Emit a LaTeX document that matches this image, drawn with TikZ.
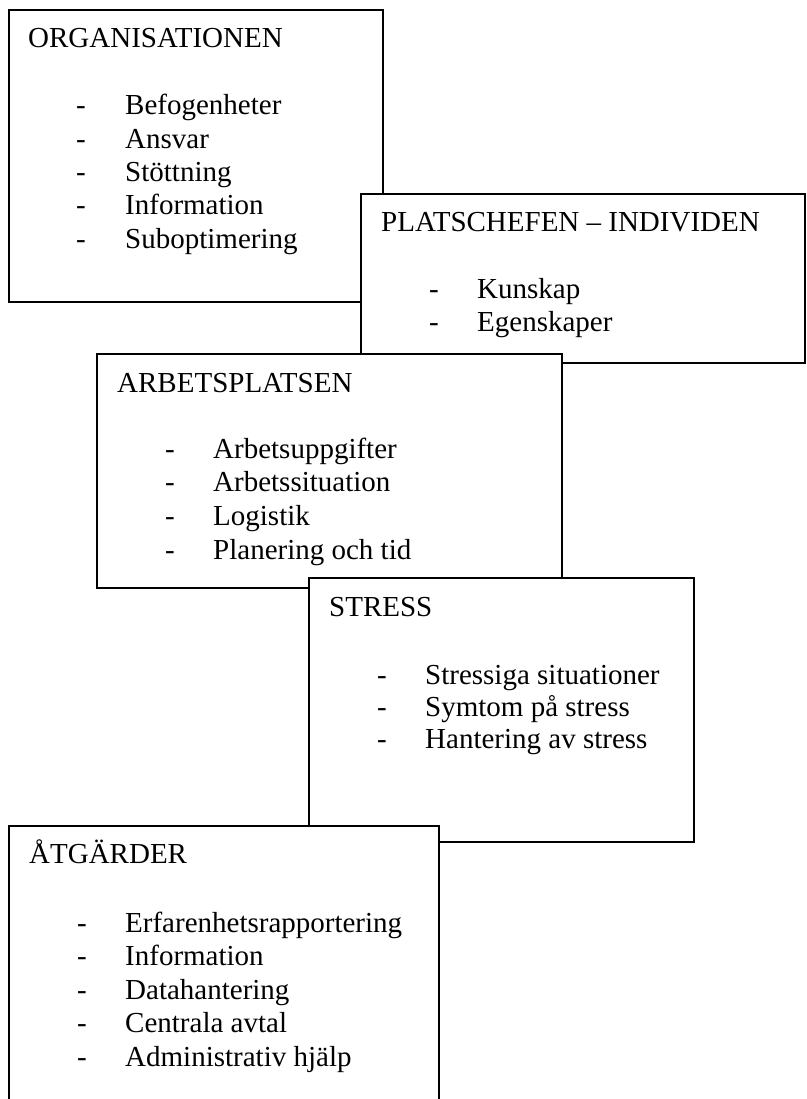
\documentclass[tikz,border=0pt]{standalone}
\usepackage{fontspec}
\setmainfont{Liberation Serif}
\begin{document}
\begin{tikzpicture}[x=1pt,y=-1pt,
  frame/.style={draw, line width=1.3pt, fill=white, inner sep=0pt, outer sep=0pt, anchor=north west},
  txt/.style={anchor=base west, inner sep=0pt, font=\fontsize{29}{33}\selectfont}]
\useasboundingbox[fill=white] (0,0) rectangle (806,1099);
\clip (0,0) rectangle (806,1099);

% ORGANISATIONEN
\node[frame, minimum width=374pt, minimum height=292pt] (org) at (9,10) {};
\node[txt] (orgT) at (28,48) {ORGANISATIONEN};
\foreach \t [count=\i] in {Befogenheter,Ansvar,Stöttning,Information,Suboptimering}{
  \node[txt] (orgD\i) at (76,{115+33.3*(\i-1)}) {-};
  \node[txt] (orgI\i) at (125,{115+33.3*(\i-1)}) {\t};
}

% PLATSCHEFEN
\node[frame, minimum width=444pt, minimum height=169pt] (plats) at (361,194) {};
\node[txt] (platsT) at (381,232) {PLATSCHEFEN – INDIVIDEN};
\foreach \t [count=\i] in {Kunskap,Egenskaper}{
  \node[txt] (platsD\i) at (429,{298+33.5*(\i-1)}) {-};
  \node[txt] (platsI\i) at (477,{298+33.5*(\i-1)}) {\t};
}

% ARBETSPLATSEN
\node[frame, minimum width=465pt, minimum height=234pt] (arb) at (97,354) {};
\node[txt] (arbT) at (117,392) {ARBETSPLATSEN};
\foreach \t [count=\i] in {Arbetsuppgifter,Arbetssituation,Logistik,Planering och tid}{
  \node[txt] (arbD\i) at (165,{458+33.7*(\i-1)}) {-};
  \node[txt] (arbI\i) at (213,{458+33.7*(\i-1)}) {\t};
}

% STRESS
\node[frame, minimum width=385pt, minimum height=264pt] (stress) at (309,578) {};
\node[txt] (stressT) at (329,616) {STRESS};
\foreach \t [count=\i] in {Stressiga situationer,Symtom på stress,Hantering av stress}{
  \node[txt] (stressD\i) at (377,{684+32*(\i-1)}) {-};
  \node[txt] (stressI\i) at (425,{684+32*(\i-1)}) {\t};
}

% ÅTGÄRDER
\node[frame, minimum width=430pt, minimum height=290pt] (atg) at (9,826) {};
\node[txt] (atgT) at (29,863) {ÅTGÄRDER};
\foreach \t [count=\i] in {Erfarenhetsrapportering,Information,Datahantering,Centrala avtal,Administrativ hjälp}{
  \node[txt] (atgD\i) at (77,{932+33.5*(\i-1)}) {-};
  \node[txt] (atgI\i) at (125,{932+33.5*(\i-1)}) {\t};
}
\end{tikzpicture}
\end{document}
